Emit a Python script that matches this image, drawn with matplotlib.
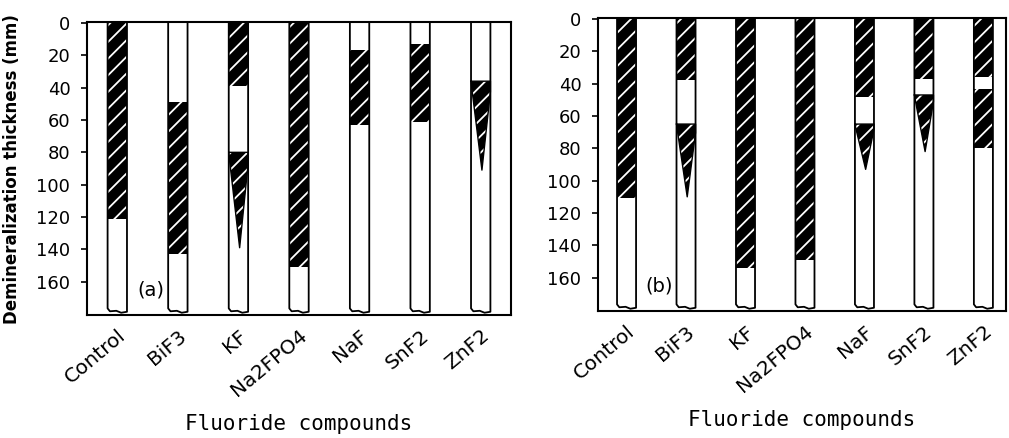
import matplotlib
matplotlib.use("Agg")
import matplotlib.pyplot as plt
import matplotlib.transforms as mtransforms

plt.rcParams['hatch.linewidth'] = 1.3

categories = ["Control", "BiF3", "KF", "Na2FPO4", "NaF", "SnF2", "ZnF2"]
yticks = [0, 20, 40, 60, 80, 100, 120, 140, 160]

# Panel (a): demineralized bands (depth in mm, top -> bottom)
a_band_top = [0, 49, 0, 0, 17, 13, None]
a_band_bottom = [121, 143, 39, 151, 63, 61, None]
a_band2_top = [None, None, None, None, None, None, None]
a_band2_bottom = [None, None, None, None, None, None, None]
a_wedge_top = [None, None, 80, None, None, None, 36]
a_wedge_tip = [None, None, 139, None, None, None, 91]

# Panel (b)
b_band_top = [0, 0, 0, 0, 0, 0, 0]
b_band_bottom = [111, 38, 154, 149, 48, 37, 36]
b_band2_top = [None, None, None, None, None, None, 43]
b_band2_bottom = [None, None, None, None, None, None, 80]
b_wedge_top = [None, 65, None, None, 65, 47, None]
b_wedge_tip = [None, 110, None, None, 93, 82, None]

W = 0.32
fig = plt.figure(figsize=(10.09, 4.38), dpi=100)
ax_a = fig.add_axes([87/1009, 123/438, 424/1009, 293/438])
ax_b = fig.add_axes([598/1009, 127/438, 408/1009, 293/438])


def draw_panel(ax, band_top, band_bottom, band2_top, band2_bottom,
               wedge_top, wedge_tip, xlim, tag):
    x = list(range(len(categories)))
    for tops, bots in ((band_top, band_bottom), (band2_top, band2_bottom)):
        xs = [i for i in x if tops[i] is not None]
        if xs:
            ax.bar(xs, [bots[i] - tops[i] for i in xs], bottom=[tops[i] for i in xs],
                   width=W, color='black', edgecolor='white', hatch='//',
                   linewidth=0, zorder=2)
    for i in x:
        if wedge_top[i] is not None:
            t, p = wedge_top[i], wedge_tip[i]
            px = [i - W/2, i + W/2, i + W/2, i + 0.02, i - W/2 + 0.02]
            py = [t, t, t + 0.12*(p - t), p, t + 0.12*(p - t)]
            ax.fill(px, py, facecolor='black', edgecolor='white', hatch='//',
                    linewidth=0, zorder=2)
            ax.plot(px + [px[0]], py + [py[0]], color='black', lw=1.0, zorder=3)
        # column outline with notched bottom
        x0, x1 = i - W/2, i + W/2
        ox = [x0, x0, x0 + 0.12*W, x0 + 0.45*W, x0 + 0.7*W, x1, x1]
        oy = [0, 176.5, 178.3, 178.0, 179.2, 178.6, 0]
        ax.plot(ox, oy, color='black', lw=1.3, zorder=3, solid_joinstyle='round')
    ax.set_xlim(*xlim)
    ax.set_ylim(180.6, -0.6)
    ax.set_yticks(yticks)
    ax.set_yticklabels([str(v) for v in yticks], fontsize=13)
    ax.set_xticks(x)
    ax.set_xticklabels(categories, rotation=40, ha='right', rotation_mode='anchor',
                       fontsize=14.5)
    off = mtransforms.ScaledTranslation(10/100, -2/100, fig.dpi_scale_trans)
    for lab in ax.get_xticklabels():
        lab.set_transform(lab.get_transform() + off)
    ax.tick_params(axis='x', length=0, pad=8)
    ax.tick_params(axis='y', direction='out', length=4, width=1.2, pad=8)
    for s in ax.spines.values():
        s.set_linewidth(1.5)
    ax.set_xlabel("Fluoride compounds", family='DejaVu Sans Mono', fontsize=15,
                  labelpad=10)
    ax.text(0.55, 165, tag, fontsize=14, ha='center', va='center')


draw_panel(ax_a, a_band_top, a_band_bottom, a_band2_top, a_band2_bottom,
           a_wedge_top, a_wedge_tip, (-0.5, 6.5), "(a)")
draw_panel(ax_b, b_band_top, b_band_bottom, b_band2_top, b_band2_bottom,
           b_wedge_top, b_wedge_tip, (-0.48, 6.38), "(b)")

fig.text(12/1009, 1 - 169/438, "Demineralization thickness (mm)", rotation=90,
         ha='center', va='center', fontsize=12, fontweight='bold')

fig.savefig("out.png", dpi=100)
